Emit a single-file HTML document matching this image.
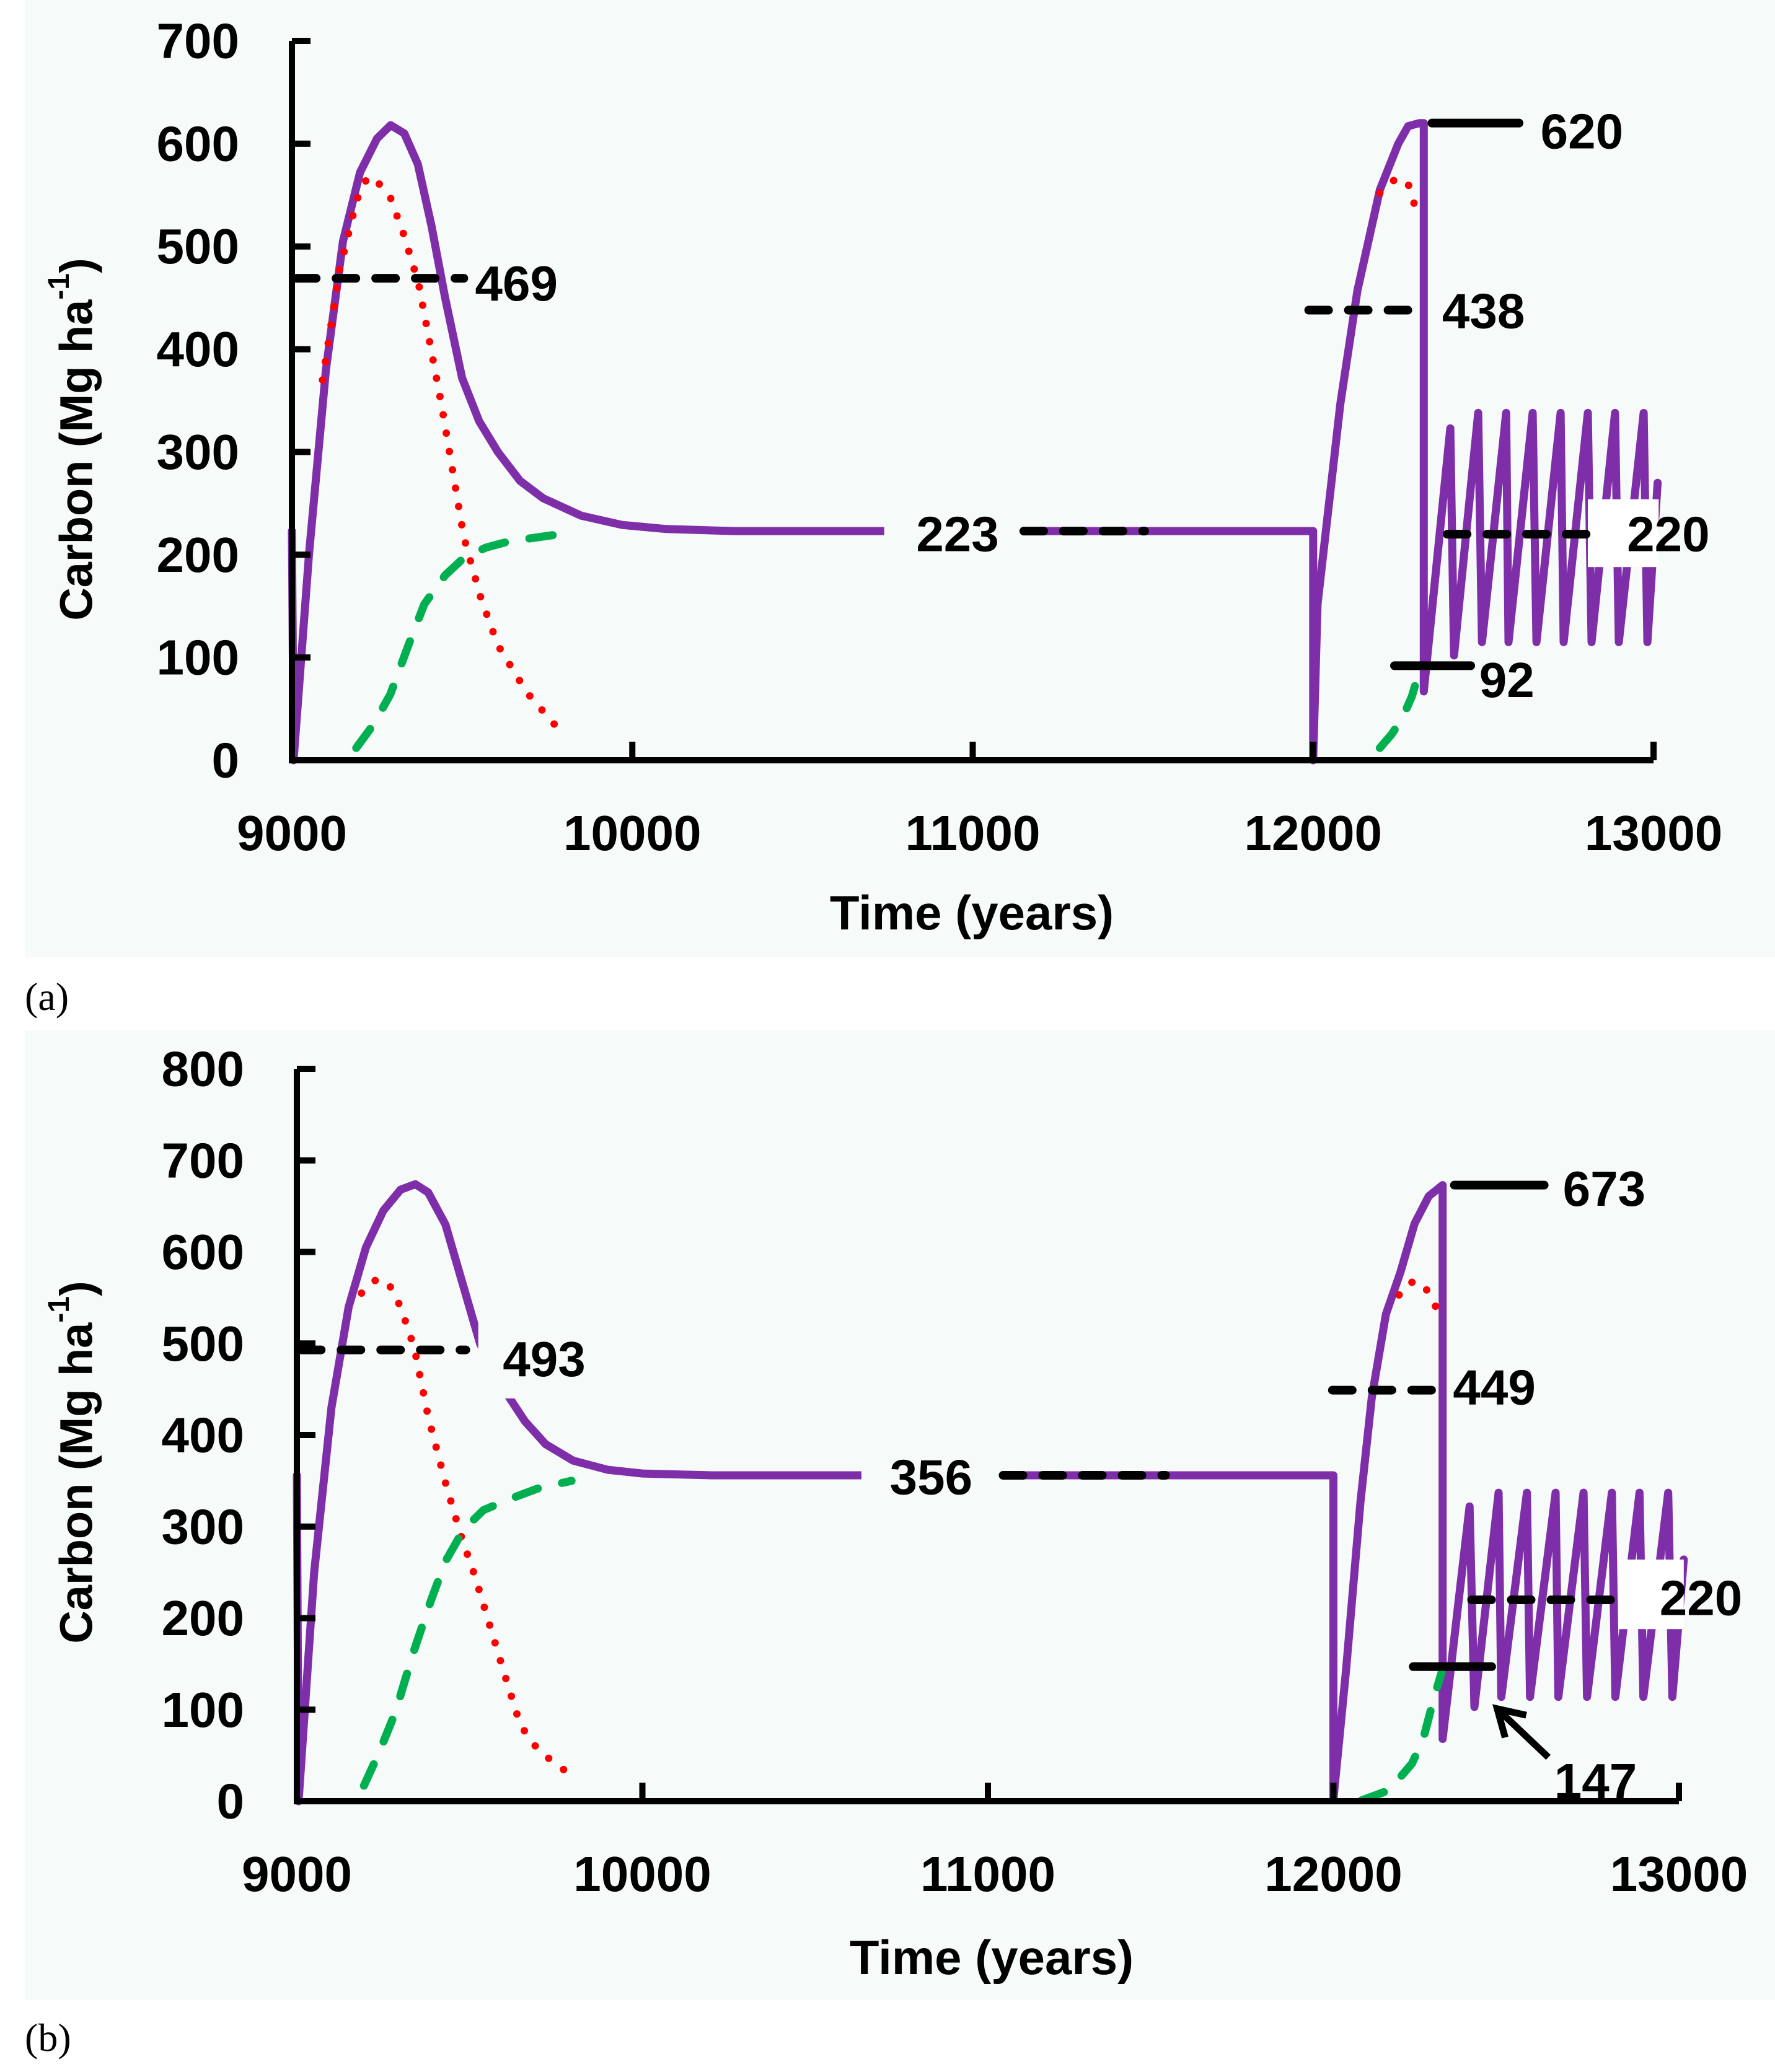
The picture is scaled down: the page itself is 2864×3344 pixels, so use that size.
<!DOCTYPE html>
<html><head><meta charset="utf-8"><style>
html,body{margin:0;padding:0;background:#fff;}
svg{display:block;}
text{font-family:"Liberation Sans",sans-serif;font-weight:bold;fill:#000;}
</style></head><body>
<svg id="fig" width="2864" height="3344" viewBox="0 0 2864 3344" xmlns="http://www.w3.org/2000/svg"></svg>
<script>
// ---------- Panel (a) data ----------
const aXTicks = [9000, 10000, 11000, 12000, 13000];
const aYTicks = [0, 100, 200, 300, 400, 500, 600, 700];
const aTotal = [[9000,223],[9005,0],[9050,200],[9100,380],[9150,505],[9200,572],[9250,605],[9290,618],[9330,610],[9370,580],[9410,520],[9450,450],[9500,372],[9550,330],[9605,300],[9670,272],[9738,255],[9850,238],[9970,229],[10100,225],[10300,223],[12000,223],[12000,0],[12013,152],[12080,347],[12130,457],[12196,555],[12250,600],[12279,617],[12312,620],[12325,620],[12325,67],
 [12403,323],[12414,102],[12485,338],[12496,115],[12567,338],[12574,115],[12645,338],[12656,115],[12727,338],[12736,115],[12807,338],[12818,115],[12887,338],[12898,115],[12971,338],[12982,115],[13012,270]];
const aLive = [[9090,370],[9140,477],[9190,545],[9223,568],[9260,560],[9289,548],[9330,510],[9372,464],[9439,347],[9505,217],[9555,158],[9605,112],[9690,66],[9771,35]];
const aLive2 = [[12196,552],[12246,567],[12280,560],[12302,536]];
const aDead = [[9189,12],[9240,35],[9289,64],[9340,110],[9389,152],[9450,180],[9505,197],[9570,207],[9638,213],[9787,220]];
const aDead2 = [[12196,12],[12230,25],[12262,41],[12290,62],[12312,87]];
const aRefs = [
 {v:469, x1:9013, x2:9505, dash:true, tx:9538, ty:464, label:'469'},
 {v:438, x1:11987, x2:12312, dash:true, tx:12379, ty:437, label:'438'},
 {v:620, x1:12349, x2:12605, dash:false, tx:12668, ty:612, label:'620'},
 {v:223, x1:11150, x2:11505, dash:true, tx:10834, ty:220, label:'223'},
 {v:220, x1:12394, x2:12807, dash:true, tx:12922, ty:220, label:'220'},
 {v:92, x1:12239, x2:12463, dash:false, tx:12488, ty:78, label:'92'}];
const aBoxes = [[10740,11150,178,268,'#f6faf8'],[12807,13015,188,254,'#ffffff']];

// ---------- Panel (b) data ----------
const bXTicks = [9000, 10000, 11000, 12000, 13000];
const bYTicks = [0, 100, 200, 300, 400, 500, 600, 700, 800];
const bTotal = [[9000,356],[9005,0],[9050,250],[9100,430],[9150,540],[9200,605],[9250,645],[9300,668],[9343,674],[9380,665],[9430,630],[9480,565],[9530,500],[9570,470],[9613,442],[9660,415],[9720,390],[9800,372],[9900,362],[10000,358],[10200,356],[12000,356],[12000,2],[12037,145],[12078,326],[12111,441],[12152,532],[12194,578],[12235,631],[12276,661],[12316,673],[12316,68],
 [12394,322],[12408,103],[12478,337],[12486,114],[12560,337],[12569,114],[12643,337],[12651,114],[12724,337],[12734,114],[12806,337],[12816,114],[12886,337],[12897,114],[12969,337],[12981,114],[13014,264]];
const bLive = [[9187,555],[9230,570],[9265,566],[9300,540],[9340,495],[9380,420],[9430,348],[9475,290],[9516,245],[9560,190],[9600,140],[9647,83],[9700,55],[9795,28]];
const bLive2 = [[12190,553],[12223,567],[12258,566],[12285,549],[12305,533]];
const bDead = [[9194,17],[9240,55],[9286,98],[9335,160],[9385,216],[9430,262],[9483,297],[9540,318],[9615,330],[9700,342],[9795,350]];
const bDead2 = [[12082,1],[12161,12],[12227,41],[12260,68],[12289,110],[12318,147]];
const bRefs = [
 {v:493, x1:9013, x2:9489, dash:true, tx:9596, ty:483, label:'493'},
 {v:449, x1:11997, x2:12305, dash:true, tx:12346, ty:452, label:'449'},
 {v:673, x1:12350, x2:12610, dash:false, tx:12664, ty:669, label:'673'},
 {v:356, x1:11044, x2:11514, dash:true, tx:10716, ty:354, label:'356'},
 {v:220, x1:12400, x2:12824, dash:true, tx:12944, ty:222, label:'220'},
 {v:147, x1:12231, x2:12458, dash:false, tx:12639, ty:22, label:'147'}];
const bBoxes = [[9525,9850,440,532,'#f6faf8'],[10634,11044,318,392,'#f6faf8'],[12824,13014,188,264,'#ffffff']];
const bArrow = [[12622,48],[12474,101]];

const NS = 'http://www.w3.org/2000/svg';
const svg = document.getElementById('fig');
function mk(tag, attrs, parent){
  const e = document.createElementNS(NS, tag);
  for (const k in attrs) e.setAttribute(k, attrs[k]);
  (parent||svg).appendChild(e);
  return e;
}
function pts(arr, X, Y){ return arr.map(p => X(p[0]).toFixed(1)+','+Y(p[1]).toFixed(1)).join(' '); }

function panel(cfg){
  const g = mk('g', {});
  
  
  const X = v => cfg.x0 + (v - 9000) * (cfg.x1 - cfg.x0) / 4000;
  const Y = v => cfg.y0 - v * (cfg.y0 - cfg.yTop) / cfg.yMax;
  const bg = mk('rect', {x:40, y:cfg.bgTop, width:2824, height:cfg.bgBot-cfg.bgTop, fill:'#f6faf8'}, g);
  
  

  const tot = mk('polyline', {points:pts(cfg.total,X,Y), fill:'none', stroke:'#7e2ea8', 'stroke-width':13, 'stroke-linejoin':'round', 'stroke-linecap':'round'}, g);
  
  
  [cfg.live, cfg.live2].forEach(s => {
    const l = mk('polyline', {points:pts(s,X,Y), fill:'none', stroke:'#ff0000', 'stroke-width':12, 'stroke-linecap':'round', 'stroke-dasharray':'0 30'}, g);
    
    
  });
  [cfg.dead, cfg.dead2].forEach(s => {
    const l = mk('polyline', {points:pts(s,X,Y), fill:'none', stroke:'#00b050', 'stroke-width':13, 'stroke-linecap':'round', 'stroke-dasharray':'38 40'}, g);
    
    
  });
  cfg.boxes.forEach(b => {
    const r = mk('rect', {x:X(b[0]), y:Y(b[3]), width:X(b[1])-X(b[0]), height:Y(b[2])-Y(b[3]), fill:b[4]}, g);
    
    
  });
  cfg.refs.forEach(r => {
    const ln = mk('line', {x1:X(r.x1), x2:X(r.x2), y1:Y(r.v), y2:Y(r.v), stroke:'#000', 'stroke-width':14, 'stroke-linecap':'round'}, g);
    if (r.dash) ln.setAttribute('stroke-dasharray', '32 32');
    
    
    const t = mk('text', {x:X(r.tx), y:Y(r.ty), 'font-size':80, 'dominant-baseline':'central'}, g);
    t.textContent = r.label;
    
    
  });
  if (cfg.arrow){
    const a = cfg.arrow;
    const x1=X(a[0][0]), y1=Y(a[0][1]), x2=X(a[1][0]), y2=Y(a[1][1]);
    const ang = Math.atan2(y2-y1, x2-x1), L=48;
    const ar = mk('path', {d:`M${x1},${y1} L${x2},${y2} M${x2+L*Math.cos(ang+2.6)},${y2+L*Math.sin(ang+2.6)} L${x2},${y2} L${x2+L*Math.cos(ang-2.6)},${y2+L*Math.sin(ang-2.6)}`, fill:'none', stroke:'#000', 'stroke-width':11}, g);
    
    
  }
  const ax = mk('path', {d:`M${X(9000)},${Y(cfg.yMax)} L${X(9000)},${Y(0)} L${X(13000)},${Y(0)}`, fill:'none', stroke:'#000', 'stroke-width':10}, g);
  
  
  cfg.yTicks.forEach(v => {
    const tk = mk('line', {x1:X(9000), x2:X(9000)+30, y1:Y(v), y2:Y(v), stroke:'#000', 'stroke-width':10}, g);
    
    
    const t = mk('text', {x:X(9000)-85, y:Y(v), 'font-size':80, 'text-anchor':'end', 'dominant-baseline':'central'}, g);
    t.textContent = v;
    
    
  });
  cfg.xTicks.forEach(v => {
    const tk = mk('line', {x1:X(v), x2:X(v), y1:Y(0), y2:Y(0)-30, stroke:'#000', 'stroke-width':10}, g);
    
    
    const t = mk('text', {x:X(v), y:cfg.xLabY, 'font-size':80, 'text-anchor':'middle'}, g);
    t.textContent = v;
    
    
  });
  const xt = mk('text', {x:cfg.xTitleX, y:cfg.xTitleY, 'font-size':78, 'text-anchor':'middle'}, g);
  xt.textContent = 'Time (years)';
  
  
  const yt = mk('text', {x:0, y:0, 'font-size':74, 'text-anchor':'middle', 'dominant-baseline':'central', transform:`translate(123,${cfg.yTitleY}) rotate(-90)`}, g);
  yt.innerHTML = 'Carbon (Mg ha<tspan font-size="48" dy="-28">-1</tspan><tspan dy="28">)</tspan>';
  
  
  const pl = mk('text', {x:40, y:cfg.panelLabY, 'font-size':64, style:'font-family:"Liberation Serif",serif;font-weight:normal'}, g);
  pl.textContent = cfg.panelLabel;
  
  
}

panel({name:'panel-a', x0:471, x1:2668, y0:1227, yTop:66, yMax:700, bgTop:0, bgBot:1545,
  total:aTotal, live:aLive, live2:aLive2, dead:aDead, dead2:aDead2, refs:aRefs, boxes:aBoxes,
  xTicks:aXTicks, yTicks:aYTicks, xLabY:1372, xTitleX:1568, xTitleY:1500, yTitleY:709, panelLabY:1630, panelLabel:'(a)'});
panel({name:'panel-b', x0:479, x1:2709, y0:2907, yTop:1725, yMax:800, bgTop:1662, bgBot:3228,
  total:bTotal, live:bLive, live2:bLive2, dead:bDead, dead2:bDead2, refs:bRefs, boxes:bBoxes, arrow:bArrow,
  xTicks:bXTicks, yTicks:bYTicks, xLabY:3052, xTitleX:1600, xTitleY:3186, yTitleY:2360, panelLabY:3310, panelLabel:'(b)'});
</script>
</body></html>
